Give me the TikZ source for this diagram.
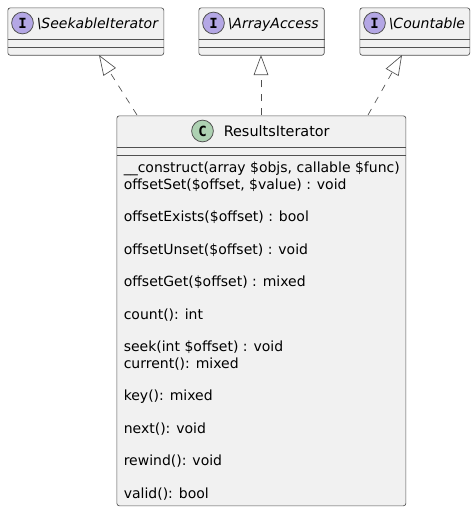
\documentclass[tikz,border=0pt]{standalone}
\usepackage{fontspec}
\setmainfont{DejaVu Sans}
\usepackage{xcolor}
\usetikzlibrary{arrows.meta,positioning}
\definecolor{boxfill}{HTML}{F1F1F1}
\definecolor{boxline}{HTML}{505050}
\definecolor{iface}{HTML}{B4A7E5}
\definecolor{cls}{HTML}{ADD1B2}

\begin{document}
\begin{tikzpicture}[
    x=0.75pt, y=-0.75pt,
    classe/.style={draw=boxline, fill=boxfill, rounded corners=1.9pt, line width=0.5pt,
        anchor=north west, inner sep=0pt},
    divisa/.style={draw=boxline, line width=0.5pt},
    icone/.style={draw=boxline, circle, minimum size=16.3pt, inner sep=0pt, line width=0.6pt,
        font=\fontsize{10.5}{12}\fontspec{DejaVu Sans Mono}\bfseries},
    titulo/.style={anchor=base west, inner sep=0pt, font=\fontsize{10.5}{12}\selectfont},
    membros/.style={anchor=north west, inner sep=0pt, align=left,
        font=\fontsize{10.5}{12.21}\selectfont},
    realiza/.style={-{Triangle[open, length=15pt, width=11pt]}, dashed,
        dash pattern=on 5.2pt off 5.2pt, draw=boxline, line width=0.5pt}
]
    \useasboundingbox (0,0) rectangle (475,511);

    % interfaces
    \node[classe, minimum width=117pt, minimum height=35.6pt] (seekable) at (7.5,7.5) {};
    \node[classe, minimum width=94.1pt, minimum height=35.6pt] (access) at (198.5,7.5) {};
    \node[classe, minimum width=82.5pt, minimum height=35.6pt] (countable) at (359.5,7.5) {};
    \node[icone, fill=iface] (seekableicon) at (22.5,23) {I};
    \node[icone, fill=iface] (accessicon) at (213.5,23) {I};
    \node[icone, fill=iface] (countableicon) at (374.5,23) {I};
    \node[titulo, font=\fontsize{10.5}{12}\selectfont\itshape] (seekablename) at (36.5,28) {\textbackslash SeekableIterator};
    \node[titulo, font=\fontsize{10.5}{12}\selectfont\itshape] (accessname) at (227.5,28) {\textbackslash ArrayAccess};
    \node[titulo, font=\fontsize{10.5}{12}\selectfont\itshape] (countablename) at (388.5,28) {\textbackslash Countable};
    \foreach \nome in {seekable, access, countable} {
        \draw[divisa] ([yshift=-24pt]\nome.north west) -- ([yshift=-24pt]\nome.north east);
        \draw[divisa] ([yshift=-30pt]\nome.north west) -- ([yshift=-30pt]\nome.north east);
    }

    % classe principal
    \node[classe, minimum width=216.8pt, minimum height=292.5pt] (results) at (116.5,115.5) {};
    \node[icone, fill=cls] (resultsicon) at (202.5,131) {C};
    \node[titulo, font=\fontsize{10.8}{12}\selectfont] (resultsname) at (223.5,136) {ResultsIterator};
    \draw[divisa] ([yshift=-24pt]results.north west) -- ([yshift=-24pt]results.north east);
    \draw[divisa] ([yshift=-30pt]results.north west) -- ([yshift=-30pt]results.north east);
    \node[membros] (members) at (123.5,162) {\_\_construct(array \$objs, callable \$func)\\
        offsetSet(\$offset, \$value) : void\\[12.21pt]
        offsetExists(\$offset) : bool\\[12.21pt]
        offsetUnset(\$offset) : void\\[12.21pt]
        offsetGet(\$offset) : mixed\\[12.21pt]
        count(): int\\[12.21pt]
        seek(int \$offset) : void\\
        current(): mixed\\[12.21pt]
        key(): mixed\\[12.21pt]
        next(): void\\[12.21pt]
        rewind(): void\\[12.21pt]
        valid(): bool};

    % setas
    \coordinate (seekablehead) at (99,55);
    \coordinate (accesshead) at (261,55);
    \coordinate (countablehead) at (402,55);
    \coordinate (seekablefoot) at (137,115);
    \coordinate (accessfoot) at (261,115);
    \coordinate (countablefoot) at (368,115);
    \draw[realiza] (seekablefoot) -- (seekablehead);
    \draw[realiza] (accessfoot) -- (accesshead);
    \draw[realiza] (countablefoot) -- (countablehead);
\end{tikzpicture}
\end{document}
